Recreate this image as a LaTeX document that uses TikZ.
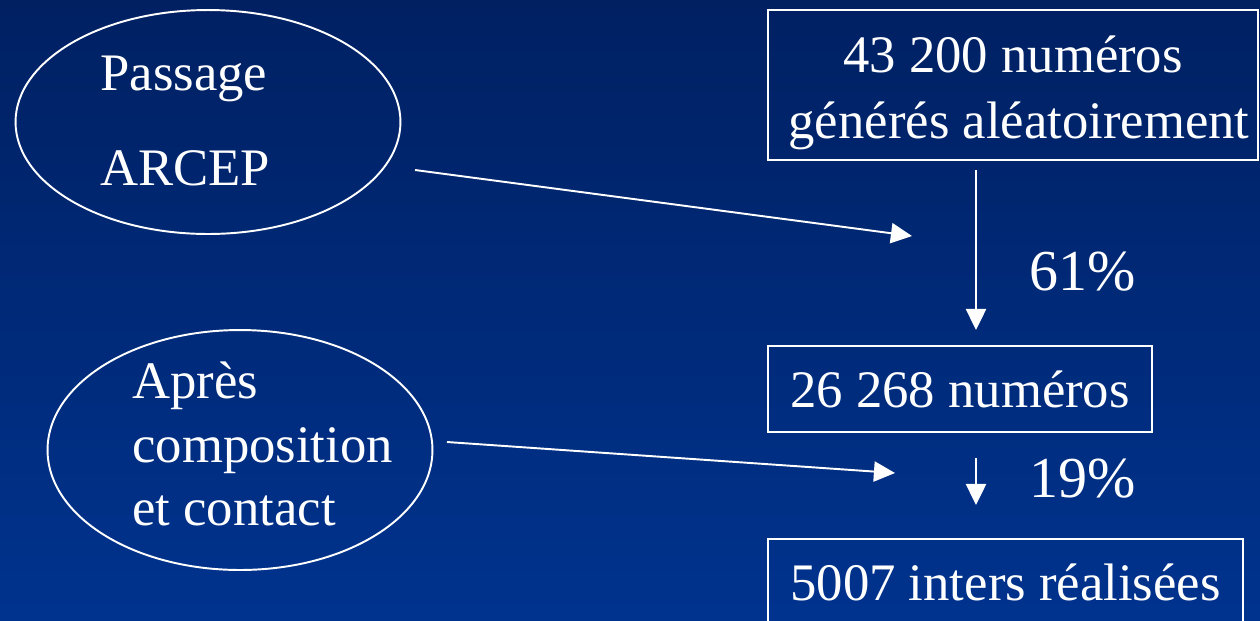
\documentclass[tikz,border=0pt]{standalone}
\usepackage{fontspec}
\setmainfont{Liberation Serif}
\usetikzlibrary{arrows.meta,shapes.geometric}

\definecolor{bgtop}{RGB}{0,32,98}
\definecolor{bgbottom}{RGB}{0,51,142}

\begin{document}
\begin{tikzpicture}[
        x=0.02cm, y=-0.02cm,
        every node/.style={text=white, font=\fontsize{30}{35}\selectfont},
        oval/.style={ellipse, draw=white, line width=1.1pt, inner sep=0pt},
        box/.style={draw=white, line width=1.1pt, align=center, inner sep=0pt},
        linetext/.style={anchor=base west, inner sep=0pt},
        rate/.style={linetext, font=\fontsize{33}{38}\selectfont},
        link/.style={draw=white, line width=1.1pt, -{Triangle[length=12pt, width=11.5pt]}}
      ]
      % background
      \shade[top color=bgtop, bottom color=bgbottom] (0,0) rectangle (1260,620);
      \useasboundingbox (0,0) rectangle (1260,620);

      % left ovals
      \node[oval, minimum width=7.7cm, minimum height=4.48cm] (passage) at (208,122) {};
      \node[linetext] (passageA) at (100,90) {Passage};
      \node[linetext] (passageB) at (100,185) {ARCEP};

      \node[oval, minimum width=7.7cm, minimum height=4.8cm] (apres) at (240,450) {};
      \node[linetext] (apresA) at (132,398) {Après};
      \node[linetext] (apresB) at (132,462) {composition};
      \node[linetext] (apresC) at (132,525) {et contact};

      % right boxes
      \node[box, minimum width=9.8cm, minimum height=3cm] (tires) at (1013,85) {};
      \node[linetext, anchor=base] (tiresA) at (1013,72) {43 200 numéros};
      \node[linetext, anchor=base] (tiresB) at (1019,138) {générés aléatoirement};
      \node[box, minimum width=7.68cm, minimum height=1.72cm] (joints) at (960,389)
        {26 268 numéros};
      \node[box, minimum width=9.5cm, minimum height=1.72cm] (inters) at (1005.5,582)
        {5007 inters réalisées};

      \node[rate] (tauxA) at (1029,290) {61\%};
      \node[rate] (tauxB) at (1029,497) {19\%};

      % arrows
      \coordinate (fromPassage) at (415,170);
      \coordinate (toPassage) at (912,236);
      \coordinate (fromApres) at (447,442);
      \coordinate (toApres) at (895,473);
      \coordinate (downA) at (976,170);
      \coordinate (downB) at (976,330);
      \coordinate (downC) at (976,458);
      \coordinate (downD) at (976,505);

      \draw[link] (fromPassage) -- (toPassage);
      \draw[link] (fromApres) -- (toApres);
      \draw[link] (downA) -- (downB);
      \draw[link] (downC) -- (downD);
    \end{tikzpicture}
\end{document}
